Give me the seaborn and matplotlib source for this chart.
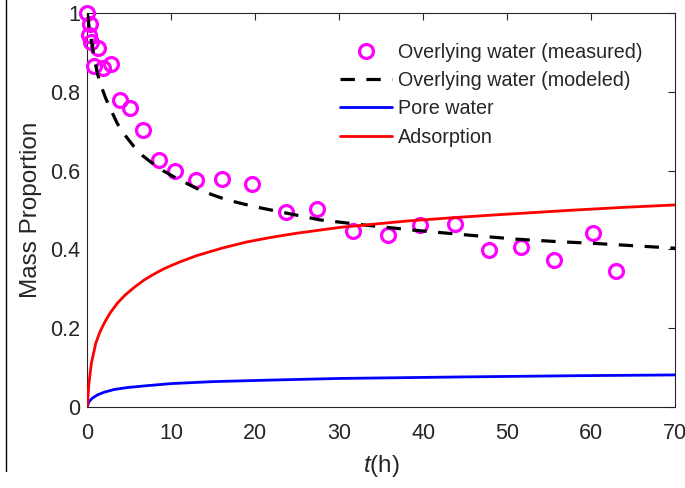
import numpy as np
import pandas as pd
import matplotlib
matplotlib.use("Agg")
import matplotlib.pyplot as plt
import seaborn as sns
from matplotlib.lines import Line2D

# ---- data ----
t_meas = [0.0, 0.33, 0.17, 0.5, 1.3, 0.75, 1.9, 2.8, 3.9, 5.05, 6.67, 8.55, 10.45,
          12.95, 16.0, 19.6, 23.6, 27.4, 31.6, 35.8, 39.6, 43.8, 47.8, 51.6, 55.6, 60.2, 62.9]
y_meas = [1.0, 0.972, 0.946, 0.926, 0.912, 0.865, 0.86, 0.87, 0.78, 0.759, 0.703, 0.627, 0.599,
          0.576, 0.58, 0.567, 0.496, 0.503, 0.448, 0.436, 0.461, 0.465, 0.398, 0.406, 0.372, 0.441, 0.346]

t_mod = [0, 0.08, 0.25, 0.48, 0.8, 1.19, 1.6, 2.19, 2.8, 3.57, 4.5, 5.56, 6.6, 7.74, 9.1, 10.6,
         12.0, 13.4, 15.0, 16.6, 19.8, 23.3, 27.7, 33, 38.8, 45, 51.1, 55.8, 60.6, 65.3, 70]
y_mod = [1.0, 0.987, 0.96, 0.932, 0.89, 0.848, 0.818, 0.784, 0.755, 0.72, 0.69, 0.661, 0.638,
         0.619, 0.599, 0.581, 0.566, 0.551, 0.538, 0.526, 0.509, 0.494, 0.475, 0.462, 0.449,
         0.437, 0.426, 0.42, 0.415, 0.409, 0.403]

t_ads = [0, 0.08, 0.2, 0.48, 1.0, 1.5, 2.0, 2.7, 3.57, 4.5, 5.56, 6.75, 8.0, 9.05, 10.0, 11.0,
         13.0, 16.0, 19.0, 22.0, 24.9, 30.1, 38, 43.8, 48.8, 58, 64, 70]
y_ads = [0, 0.026, 0.06, 0.11, 0.161, 0.19, 0.212, 0.238, 0.263, 0.284, 0.303, 0.322, 0.338,
         0.35, 0.359, 0.368, 0.384, 0.403, 0.419, 0.431, 0.441, 0.456, 0.472, 0.481, 0.488,
         0.5, 0.507, 0.513]

t_pore = [0, 0.2, 0.6, 1.19, 2.0, 3.2, 4.8, 6.75, 10.0, 15, 22, 30, 45, 58, 70]
y_pore = [0, 0.013, 0.022, 0.03, 0.037, 0.044, 0.049, 0.053, 0.059, 0.064, 0.068, 0.072, 0.076, 0.079, 0.081]

labels = ["Overlying water (measured)", "Overlying water (modeled)", "Pore water", "Adsorption"]
x_ticks = [0, 10, 20, 30, 40, 50, 60, 70]
y_ticks = [0, 0.2, 0.4, 0.6, 0.8, 1]
y_ticklabels = ["0", "0.2", "0.4", "0.6", "0.8", "1"]

# ---- style ----
sns.set_style("white")
plt.rcParams["font.family"] = ["Liberation Sans", "DejaVu Sans"]
plt.rcParams["mathtext.fontset"] = "custom"
plt.rcParams["mathtext.it"] = "Liberation Sans:italic"
plt.rcParams["mathtext.rm"] = "Liberation Sans"

fig = plt.figure(figsize=(6.85, 4.88), dpi=100)
ax = fig.add_axes([87.3 / 685, 1 - 406.8 / 488, (675.3 - 87.3) / 685, (406.8 - 13.3) / 488])

df_meas = pd.DataFrame({"t": t_meas, "y": y_meas})
df_mod = pd.DataFrame({"t": t_mod, "y": y_mod})
df_ads = pd.DataFrame({"t": t_ads, "y": y_ads})
df_pore = pd.DataFrame({"t": t_pore, "y": y_pore})

ax.plot(df_meas["t"], df_meas["y"], linestyle="none", marker="o", markersize=10,
        markerfacecolor="none", markeredgecolor="#ff00ff", markeredgewidth=2.3,
        label=labels[0], zorder=3, clip_on=False)
sns.lineplot(data=df_mod, x="t", y="y", ax=ax, color="black", linewidth=2.3,
             label=labels[1], sort=False, estimator=None, zorder=4)
ax.lines[-1].set_dashes([4.5, 3.6])
sns.lineplot(data=df_pore, x="t", y="y", ax=ax, color="#0000ff", linewidth=2.0,
             label=labels[2], sort=False, estimator=None, zorder=4)
sns.lineplot(data=df_ads, x="t", y="y", ax=ax, color="#ff0000", linewidth=2.0,
             label=labels[3], sort=False, estimator=None, zorder=4)

ax.set_xlim(0, 70)
ax.set_ylim(0, 1)
ax.set_xticks(x_ticks)
ax.set_yticks(y_ticks)
ax.set_yticklabels(y_ticklabels)
ax.tick_params(axis="both", direction="in", length=5, width=0.8, colors="#262626",
               labelsize=15.5, top=True, right=True)
ax.tick_params(axis="x", pad=12)
ax.tick_params(axis="y", pad=5)
for sp in ax.spines.values():
    sp.set_color("#262626")
    sp.set_linewidth(0.8)
    sp.set_visible(True)

ax.set_xlabel("$t$(h)", fontsize=17.5, color="#262626", labelpad=6)
ax.set_ylabel("Mass Proportion", fontsize=17.5, color="#262626", labelpad=6)

handles, labs = ax.get_legend_handles_labels()
leg = ax.legend(handles, labs, loc="upper right", bbox_to_anchor=(0.967, 0.96),
                frameon=False, fontsize=14.2, handlelength=2.6, handletextpad=0.3,
                labelspacing=0.47, borderaxespad=0.3)
for h in leg.legend_handles:
    if h.get_label() == labels[1]:
        h.set_dashes([4.5, 3.6])

# thin vertical line at the far left edge of the figure (crop artifact)
fig.add_artist(Line2D([6 / 685, 6 / 685], [0.035, 1.0], transform=fig.transFigure,
                      color="black", linewidth=1.0))

fig.savefig("out.png", dpi=100)
